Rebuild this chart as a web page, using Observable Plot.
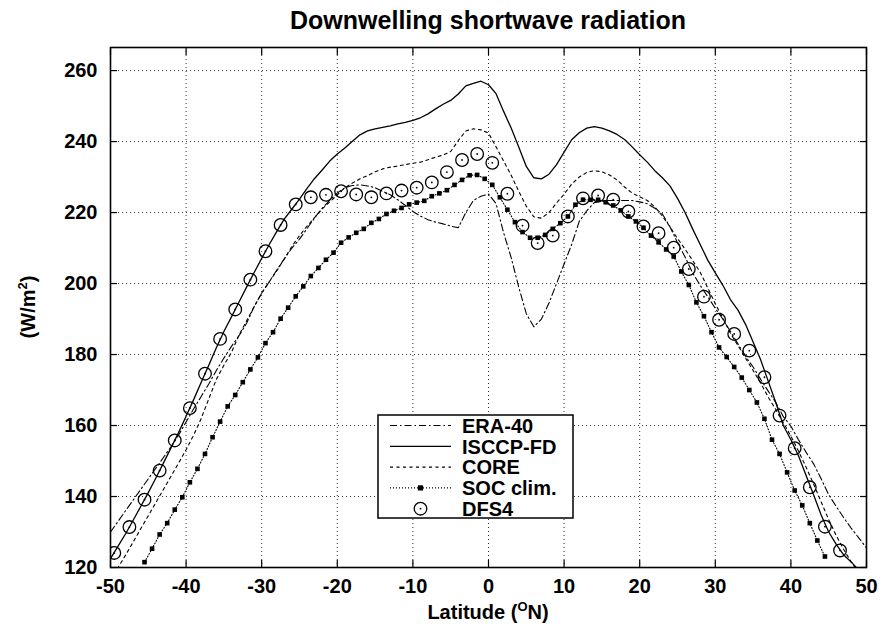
<!DOCTYPE html>
<html><head><meta charset="utf-8">
<script src="https://cdn.jsdelivr.net/npm/d3@7"></script>
<script src="https://cdn.jsdelivr.net/npm/@observablehq/plot@0.6"></script>
<style>body{margin:0;background:#fff}svg{display:block}</style>
</head><body><div id="chart"></div>
<script>
const FONT = "'Liberation Sans', Arial, Helvetica, sans-serif";
const title = "Downwelling shortwave radiation";
const seriesNames = ["ERA-40", "ISCCP-FD", "CORE", "SOC clim.", "DFS4"];
const xTicks = [-50, -40, -30, -20, -10, 0, 10, 20, 30, 40, 50];
const yTicks = [120, 140, 160, 180, 200, 220, 240, 260];

// 1-degree latitudes for the line series
const latLine = [-50,-49,-48,-47,-46,-45,-44,-43,-42,-41,-40,-39,-38,-37,-36,-35,-34,-33,-32,-31,-30,-29,-28,-27,-26,-25,-24,-23,-22,-21,-20,-19,-18,-17,-16,-15,-14,-13,-12,-11,-10,-9,-8,-7,-6,-5,-4,-3,-2,-1,0,1,2,3,4,5,6,7,8,9,10,11,12,13,14,15,16,17,18,19,20,21,22,23,24,25,26,27,28,29,30,31,32,33,34,35,36,37,38,39,40,41,42,43,44,45,46,47,48,49,50];

const era40 = [130,133,136,139,142,145,148,151,154,157.3,161,164.7,168.2,171.7,175.5,179,182.3,185.3,188.8,193.5,197.3,200.5,203.8,207,210,212.5,215.5,218.5,221.2,223.5,225.5,227,227.6,227.8,227.5,227,226,225,223.6,222,220.3,219,218,217.3,216.8,216.2,215.7,220,223.4,224.6,225.2,222.5,214.3,207.3,199,191.5,187.8,190,194.5,200,205.5,211,217.5,220.5,222.8,223.3,223.4,223.4,223.4,223.4,223,222.5,221.2,219.6,216,211.5,207.5,203,199.5,196.3,193,190,186.5,183,179.5,176.5,173,169.7,166.5,162.5,159.8,156,152.5,149.2,145,140.5,137.2,134,131,128.3,125.5];

const isccp = [122.5,126,129.5,133.3,137.2,141.1,145.2,149.4,153.7,158,162.6,167.3,172.2,177,181.9,186.5,190.6,194.8,199,203.1,207.1,211,214.7,218.2,221,223.8,226.8,229.6,232,234.5,236.5,238.2,240.1,241.9,243,243.6,244,244.4,245,245.4,246,246.7,247.8,249.2,250.5,251.6,253.4,255.7,256.4,257,256,253.5,248.5,243.8,238.5,233,229.8,229.5,230.8,233.5,237,240.5,242.5,243.8,244.2,243.8,243,242,240.6,238.5,236.3,234.2,231.8,229.8,227.5,224,220,215.4,211,206.6,203,199.5,195.5,192.5,188.5,183.5,178.5,172.5,166.5,160,156,151.5,146,140.5,134.8,130,126.5,123.5,121.5,119.2,117];

const core = [116.5,120,123.5,127.2,130.9,134.6,138.3,142,145.7,149.4,153.2,157.3,162,167.5,173,177,180.6,185.5,189.5,193.5,197.3,200.5,203.6,207,210.5,213.5,216.2,218.6,221,223,225,227,228.3,229.5,230.4,231.5,232.3,232.8,233.1,233.5,233.9,234.2,234.9,235.6,236.2,237.2,240.3,243,243.6,243.3,242.4,238.5,234.5,230.5,226,221.8,218.8,218.4,220,222.7,225.2,228,230,231.3,231.8,231.5,230.6,229.2,227.2,225.5,224.4,223.4,221.6,219,216,212.7,209.7,206.5,203.2,198.8,194.3,190.2,186,182.5,179,175.5,172,168,164.5,160.8,157,152.8,148.3,143.5,138.5,133.5,129,125,121.5,118.5,115.5];

// SOC climatology, half-degree centres
const latSOC = [-45.5,-44.5,-43.5,-42.5,-41.5,-40.5,-39.5,-38.5,-37.5,-36.5,-35.5,-34.5,-33.5,-32.5,-31.5,-30.5,-29.5,-28.5,-27.5,-26.5,-25.5,-24.5,-23.5,-22.5,-21.5,-20.5,-19.5,-18.5,-17.5,-16.5,-15.5,-14.5,-13.5,-12.5,-11.5,-10.5,-9.5,-8.5,-7.5,-6.5,-5.5,-4.5,-3.5,-2.5,-1.5,-0.5,0.5,1.5,2.5,3.5,4.5,5.5,6.5,7.5,8.5,9.5,10.5,11.5,12.5,13.5,14.5,15.5,16.5,17.5,18.5,19.5,20.5,21.5,22.5,23.5,24.5,25.5,26.5,27.5,28.5,29.5,30.5,31.5,32.5,33.5,34.5,35.5,36.5,37.5,38.5,39.5,40.5,41.5,42.5,43.5,44.5];
const soc = [121.5,125.3,129.3,132.5,136.3,139.8,144.0,147.8,152.0,156.7,161.1,165.4,168.6,172.2,175.8,179.2,183.2,186.3,190.1,193.2,196.4,199.2,202.1,204.4,206.7,208.7,211.5,213.0,214.3,215.4,217.1,218.2,219.6,220.5,221.3,222.3,222.8,223.3,224.6,225.4,226.3,227.8,229.2,230.5,230.6,229.5,227.8,224.3,220.8,217.3,214.5,212.9,212.9,213.7,215.4,217.0,218.9,222.2,223.6,223.6,223.6,222.9,222.0,220.6,218.9,217.5,215.7,213.5,211.6,209.6,207.6,203.4,199.6,194.7,190.8,186.3,182.0,179.3,176.5,173.5,170.0,166.5,161.9,156.0,152.0,146.8,141.7,137.5,132.5,127.6,123.1];

// DFS4, every 2 degrees
const latDFS = [-49.5,-47.5,-45.5,-43.5,-41.5,-39.5,-37.5,-35.5,-33.5,-31.5,-29.5,-27.5,-25.5,-23.5,-21.5,-19.5,-17.5,-15.5,-13.5,-11.5,-9.5,-7.5,-5.5,-3.5,-1.5,0.5,2.5,4.5,6.5,8.5,10.5,12.5,14.5,16.5,18.5,20.5,22.5,24.5,26.5,28.5,30.5,32.5,34.5,36.5,38.5,40.5,42.5,44.5,46.5];
const dfs4 = [124.1,131.4,139.1,147.3,155.8,164.9,174.6,184.4,192.7,201.1,209.1,216.5,222.3,224.3,225,226,225.1,224.3,225.4,226.2,227,228.5,231.4,234.8,236.5,234,225.3,216.3,211.4,213.5,218.9,224,224.8,223.6,220.3,216.1,214.2,210.1,204.1,196.3,189.8,185.8,181.1,173.6,162.8,153.6,142.6,131.5,124.8];

const lineData = (ys) => latLine.map((x, i) => ({x, y: ys[i]}));
const eraD = lineData(era40), isD = lineData(isccp), coreD = lineData(core);
const socD = latSOC.map((x, i) => ({x, y: soc[i]}));
const dfsD = latDFS.map((x, i) => ({x, y: dfs4[i]}));

const DASH = {era: "7,3,1.5,3", core: "3,3.5", soc: "1,2"};
const fmt = d => String(d);
const txt = {fontSize: 20, fontWeight: "bold", fill: "#000"};

const chart = Plot.plot({
  width: 883, height: 635,
  marginLeft: 110, marginRight: 17, marginTop: 47, marginBottom: 68,
  x: {domain: [-50, 50]},
  y: {domain: [120, 266.5]},
  style: {fontFamily: FONT, background: "#fff", color: "#000"},
  marks: [
    Plot.gridX(xTicks, {stroke: "#000", strokeOpacity: 0.8, strokeDasharray: "1,3", strokeWidth: 1}),
    Plot.gridY(yTicks, {stroke: "#000", strokeOpacity: 0.8, strokeDasharray: "1,3", strokeWidth: 1}),
    Plot.line(eraD, {x: "x", y: "y", stroke: "#000", strokeWidth: 1.1, strokeDasharray: DASH.era, clip: true}),
    Plot.line(isD, {x: "x", y: "y", stroke: "#000", strokeWidth: 1.3, clip: true}),
    Plot.line(coreD, {x: "x", y: "y", stroke: "#000", strokeWidth: 1.1, strokeDasharray: DASH.core, clip: true}),
    Plot.line(socD, {x: "x", y: "y", stroke: "#000", strokeWidth: 1.1, strokeDasharray: DASH.soc, clip: true}),
    Plot.dot(socD, {x: "x", y: "y", symbol: "square", r: 2.6, fill: "#000", stroke: "none", clip: true}),
    Plot.dot(dfsD, {x: "x", y: "y", r: 6.3, fill: "none", stroke: "#000", strokeWidth: 1.3, clip: true}),
    Plot.dot(dfsD, {x: "x", y: "y", r: 0.9, fill: "#000", stroke: "none", clip: true}),
    Plot.axisX(xTicks, {anchor: "bottom", tickSize: 0, tickPadding: 11, tickFormat: fmt, label: null, ...txt}),
    Plot.axisY(yTicks, {anchor: "left", tickSize: 0, tickPadding: 13, tickFormat: fmt, label: null, ...txt}),
    Plot.axisX(xTicks, {anchor: "bottom", tickSize: -7, tickFormat: () => "", label: null, strokeWidth: 1.2}),
    Plot.axisX(xTicks, {anchor: "top", tickSize: -7, tickFormat: () => "", label: null, strokeWidth: 1.2}),
    Plot.axisY(yTicks, {anchor: "left", tickSize: -7, tickFormat: () => "", label: null, strokeWidth: 1.2}),
    Plot.axisY(yTicks, {anchor: "right", tickSize: -7, tickFormat: () => "", label: null, strokeWidth: 1.2}),
    Plot.frame({stroke: "#000", strokeWidth: 1.6})
  ]
});
document.getElementById("chart").appendChild(chart);

// Titles and labels
const svg = d3.select(chart);
const xs = chart.scale("x"), ys = chart.scale("y");
const cx = (xs.apply(-50) + xs.apply(50)) / 2;
const cy = (ys.apply(120) + ys.apply(266.5)) / 2;
svg.append("text").attr("x", cx).attr("y", 29).attr("text-anchor", "middle")
  .attr("font-family", FONT).attr("font-weight", "bold").attr("font-size", 25).text(title);

const xl = svg.append("text").attr("x", cx).attr("y", 619).attr("text-anchor", "middle")
  .attr("font-family", FONT).attr("font-weight", "bold").attr("font-size", 20);
xl.append("tspan").text("Latitude (");
xl.append("tspan").attr("font-size", 13).attr("dy", -8).text("O");
xl.append("tspan").attr("dy", 8).text("N)");

const yl = svg.append("text").attr("transform", `translate(35,${cy}) rotate(-90)`).attr("text-anchor", "middle")
  .attr("font-family", FONT).attr("font-weight", "bold").attr("font-size", 20);
yl.append("tspan").text("(W/m");
yl.append("tspan").attr("font-size", 13).attr("dy", -8).text("2");
yl.append("tspan").attr("dy", 8).text(")");

// Legend
const lg = svg.append("g").attr("font-family", FONT).attr("font-weight", "bold").attr("font-size", 20).attr("text-anchor", "start");
const L = {x0: 378, y0: 415, w: 195, h: 103, row: 20.8, sx0: 390, sx1: 451, tx: 462};
lg.append("rect").attr("x", L.x0).attr("y", L.y0).attr("width", L.w).attr("height", L.h)
  .attr("fill", "#fff").attr("stroke", "#000").attr("stroke-width", 1.5);
seriesNames.forEach((name, i) => {
  const y = L.y0 + 10.5 + i * L.row;
  const g = lg.append("g");
  if (i < 4) {
    g.append("line").attr("x1", L.sx0).attr("x2", L.sx1).attr("y1", y).attr("y2", y)
      .attr("stroke", "#000").attr("stroke-width", i === 1 ? 1.3 : 1.1)
      .attr("stroke-dasharray", [DASH.era, null, DASH.core, DASH.soc][i]);
  }
  if (i === 3) {
    g.append("rect").attr("x", (L.sx0 + L.sx1) / 2 - 2.6).attr("y", y - 2.6).attr("width", 5.2).attr("height", 5.2).attr("fill", "#000");
  }
  if (i === 4) {
    g.append("circle").attr("cx", (L.sx0 + L.sx1) / 2).attr("cy", y).attr("r", 6.3).attr("fill", "none").attr("stroke", "#000").attr("stroke-width", 1.3);
    g.append("circle").attr("cx", (L.sx0 + L.sx1) / 2).attr("cy", y).attr("r", 0.9).attr("fill", "#000");
  }
  g.append("text").attr("x", L.tx).attr("y", y).attr("dy", "0.36em").attr("text-anchor", "start").text(name);
});
</script>
</body></html>
